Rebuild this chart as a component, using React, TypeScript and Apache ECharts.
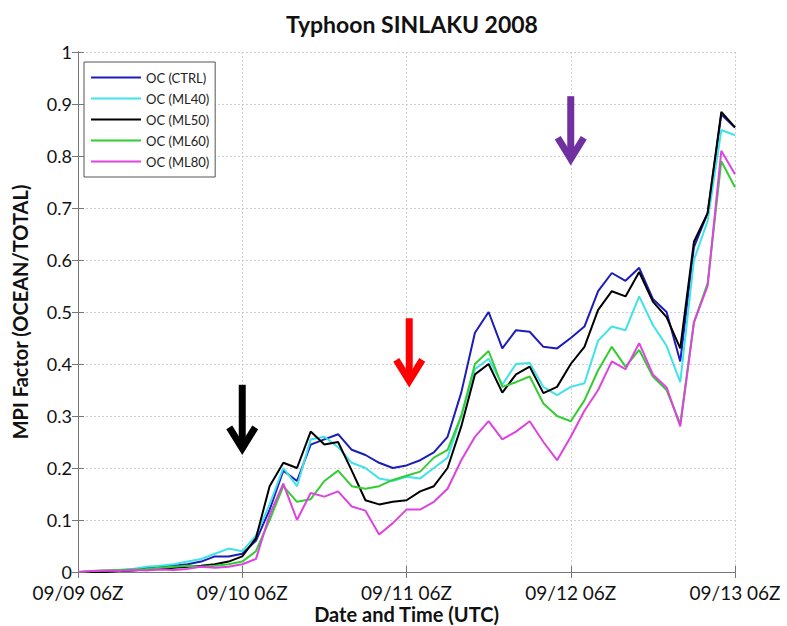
import React, { useEffect, useRef } from "react";
import * as echarts from "echarts";

const hours = [0, 2, 4, 6, 8, 10, 12, 14, 16, 18, 20, 22, 24, 26, 28, 30, 32, 34, 36, 38, 40, 42, 44, 46, 48, 50, 52, 54, 56, 58, 60, 62, 64, 66, 68, 70, 72, 74, 76, 78, 80, 82, 84, 86, 88, 90, 92, 94, 96];
const xTickLabels = ["09/09 06Z", "09/10 06Z", "09/11 06Z", "09/12 06Z", "09/13 06Z"];

const ctrl = [0, 0, 0.002, 0.003, 0.005, 0.008, 0.01, 0.012, 0.015, 0.02, 0.03, 0.03, 0.035, 0.06, 0.12, 0.195, 0.175, 0.245, 0.255, 0.265, 0.235, 0.225, 0.21, 0.2, 0.205, 0.215, 0.23, 0.26, 0.345, 0.46, 0.5, 0.43, 0.465, 0.462, 0.433, 0.43, 0.45, 0.472, 0.54, 0.575, 0.56, 0.585, 0.525, 0.5, 0.405, 0.625, 0.69, 0.88, 0.855];
const ml40 = [0, 0, 0.002, 0.004, 0.006, 0.01, 0.012, 0.015, 0.02, 0.025, 0.035, 0.045, 0.04, 0.07, 0.13, 0.2, 0.165, 0.255, 0.26, 0.24, 0.21, 0.2, 0.18, 0.175, 0.183, 0.18, 0.2, 0.22, 0.3, 0.39, 0.41, 0.36, 0.4, 0.402, 0.356, 0.34, 0.356, 0.363, 0.445, 0.472, 0.465, 0.53, 0.475, 0.435, 0.365, 0.6, 0.675, 0.85, 0.84];
const ml50 = [0, 0, 0, 0.002, 0.003, 0.005, 0.006, 0.008, 0.01, 0.012, 0.015, 0.02, 0.03, 0.065, 0.165, 0.21, 0.2, 0.27, 0.245, 0.25, 0.195, 0.138, 0.13, 0.135, 0.138, 0.155, 0.165, 0.2, 0.28, 0.38, 0.4, 0.345, 0.38, 0.395, 0.344, 0.356, 0.4, 0.433, 0.504, 0.54, 0.53, 0.577, 0.52, 0.49, 0.43, 0.635, 0.69, 0.885, 0.855];
const ml60 = [0, 0.002, 0.003, 0.004, 0.005, 0.006, 0.008, 0.01, 0.012, 0.01, 0.012, 0.015, 0.02, 0.04, 0.1, 0.165, 0.135, 0.14, 0.175, 0.195, 0.165, 0.16, 0.165, 0.177, 0.185, 0.193, 0.22, 0.235, 0.3, 0.4, 0.425, 0.356, 0.365, 0.376, 0.324, 0.3, 0.29, 0.33, 0.388, 0.433, 0.395, 0.427, 0.376, 0.35, 0.285, 0.48, 0.555, 0.79, 0.74];
const ml80 = [0, 0.002, 0.003, 0.002, 0.004, 0.003, 0.005, 0.004, 0.006, 0.01, 0.008, 0.01, 0.015, 0.025, 0.11, 0.17, 0.1, 0.152, 0.145, 0.155, 0.126, 0.118, 0.072, 0.094, 0.12, 0.12, 0.135, 0.16, 0.215, 0.26, 0.29, 0.255, 0.27, 0.29, 0.25, 0.215, 0.26, 0.31, 0.35, 0.405, 0.39, 0.44, 0.38, 0.355, 0.28, 0.48, 0.55, 0.81, 0.765];

const seriesNames = ["OC (CTRL)", "OC (ML40)", "OC (ML50)", "OC (ML60)", "OC (ML80)"];
const seriesValues = [ctrl, ml40, ml50, ml60, ml80];
const seriesColors = ["#1c1cb8", "#3fe3e8", "#000000", "#33cc33", "#dd44dd"];

const arrowHours = [24, 48.4, 72];
const arrowTops = [0.36, 0.488, 0.915];
const arrowTips = [0.23, 0.36, 0.787];
const arrowColors = ["#000000", "#ff0000", "#7030a0"];

const FONT = "Lato, 'Open Sans', sans-serif";

export default function App() {
  const ref = useRef<HTMLDivElement>(null);
  useEffect(() => {
    document.body.style.margin = "0";
    if (!ref.current) return;
    const chart = echarts.init(ref.current, null, { renderer: "svg" });
    const lineSeries = seriesNames.map((name, k) => ({
      name,
      type: "line",
      data: hours.map((h, i) => [h, seriesValues[k][i]]),
      symbol: "none",
      showSymbol: false,
      lineStyle: { color: seriesColors[k], width: 2 },
      itemStyle: { color: seriesColors[k] },
      z: 3 + k,
    }));
    const arrowSeries = {
      type: "custom",
      name: "arrows",
      data: arrowHours.map((h, i) => [h, arrowTops[i], arrowTips[i]]),
      z: 20,
      renderItem: (params: any, api: any) => {
        const x = api.value(0);
        const top = api.coord([x, api.value(1)]);
        const tip = api.coord([x, api.value(2)]);
        const color = arrowColors[params.dataIndex];
        return {
          type: "group",
          children: [
            {
              type: "line",
              shape: { x1: top[0], y1: top[1], x2: tip[0], y2: tip[1] - 4 },
              style: { stroke: color, lineWidth: 7 },
            },
            {
              type: "polyline",
              shape: {
                points: [
                  [tip[0] - 13, tip[1] - 25],
                  [tip[0], tip[1] - 4],
                  [tip[0] + 13, tip[1] - 25],
                ],
              },
              style: { stroke: color, lineWidth: 7, fill: "none", lineJoin: "miter" },
            },
          ],
        };
      },
    };
    const xBase = { type: "value", min: 0, max: 96, interval: 24 };
    const yBase = { type: "value", min: 0, max: 1, interval: 0.1 };
    chart.setOption({
      animation: false,
      backgroundColor: "#ffffff",
      title: {
        text: "Typhoon SINLAKU 2008",
        left: 407,
        top: 7,
        textAlign: "center",
        textStyle: { fontFamily: FONT, fontSize: 23, fontWeight: "bold", color: "#111" },
      },
      legend: {
        data: seriesNames.map((n) => ({ name: n, icon: "rect" })),
        orient: "vertical",
        left: 84,
        top: 62,
        padding: [8, 6, 8, 7],
        itemGap: 6,
        itemWidth: 50,
        itemHeight: 2,
        borderColor: "#555",
        borderWidth: 1,
        backgroundColor: "#ffffff",
        textStyle: { fontFamily: FONT, fontSize: 13, color: "#222", lineHeight: 15 },
      },
      grid: { left: 78, right: 52, top: 52, bottom: 54, outerBoundsMode: "none", containLabel: false },
      xAxis: [
        {
          ...xBase,
          position: "bottom",
          name: "Date and Time (UTC)",
          nameLocation: "middle",
          nameGap: 32,
          nameMoveOverlap: false,
          nameTextStyle: { fontFamily: FONT, fontSize: 20, lineHeight: 20, fontWeight: "bold", color: "#111" },
          axisLine: { show: true, lineStyle: { color: "#777", width: 1 } },
          axisTick: { show: true, inside: true, length: 6, lineStyle: { color: "#777" } },
          axisLabel: {
            fontFamily: FONT,
            fontSize: 19,
            lineHeight: 19,
            color: "#111",
            margin: 11,
            formatter: (v: number) => xTickLabels[Math.round(v / 24)] ?? "",
          },
          splitLine: { show: true, lineStyle: { color: "#cfcfcf", type: [2, 2], width: 1 } },
        },
        {
          ...xBase,
          position: "top",
          axisLine: { show: true, lineStyle: { color: "#777", width: 1 } },
          axisTick: { show: true, inside: true, length: 6, lineStyle: { color: "#777" } },
          axisLabel: { show: false },
          splitLine: { show: false },
        },
      ],
      yAxis: [
        {
          ...yBase,
          position: "left",
          name: "MPI Factor (OCEAN/TOTAL)",
          nameLocation: "middle",
          nameGap: 48,
          nameMoveOverlap: false,
          nameTextStyle: { fontFamily: FONT, fontSize: 20, fontWeight: "bold", color: "#111" },
          axisLine: { show: true, lineStyle: { color: "#777", width: 1 } },
          axisTick: { show: true, inside: true, length: 6, lineStyle: { color: "#777" } },
          axisLabel: { fontFamily: FONT, fontSize: 18, lineHeight: 18, color: "#111", margin: 6 },
          splitLine: { show: true, lineStyle: { color: "#cfcfcf", type: [2, 2], width: 1 } },
        },
        {
          ...yBase,
          position: "right",
          axisLine: { show: true, lineStyle: { color: "#777", width: 1 } },
          axisTick: { show: true, inside: true, length: 6, lineStyle: { color: "#777" } },
          axisLabel: { show: false },
          splitLine: { show: false },
        },
      ],
      series: [...lineSeries, arrowSeries],
    });
    return () => chart.dispose();
  }, []);
  return <div ref={ref} style={{ width: 787, height: 626 }} />;
}
